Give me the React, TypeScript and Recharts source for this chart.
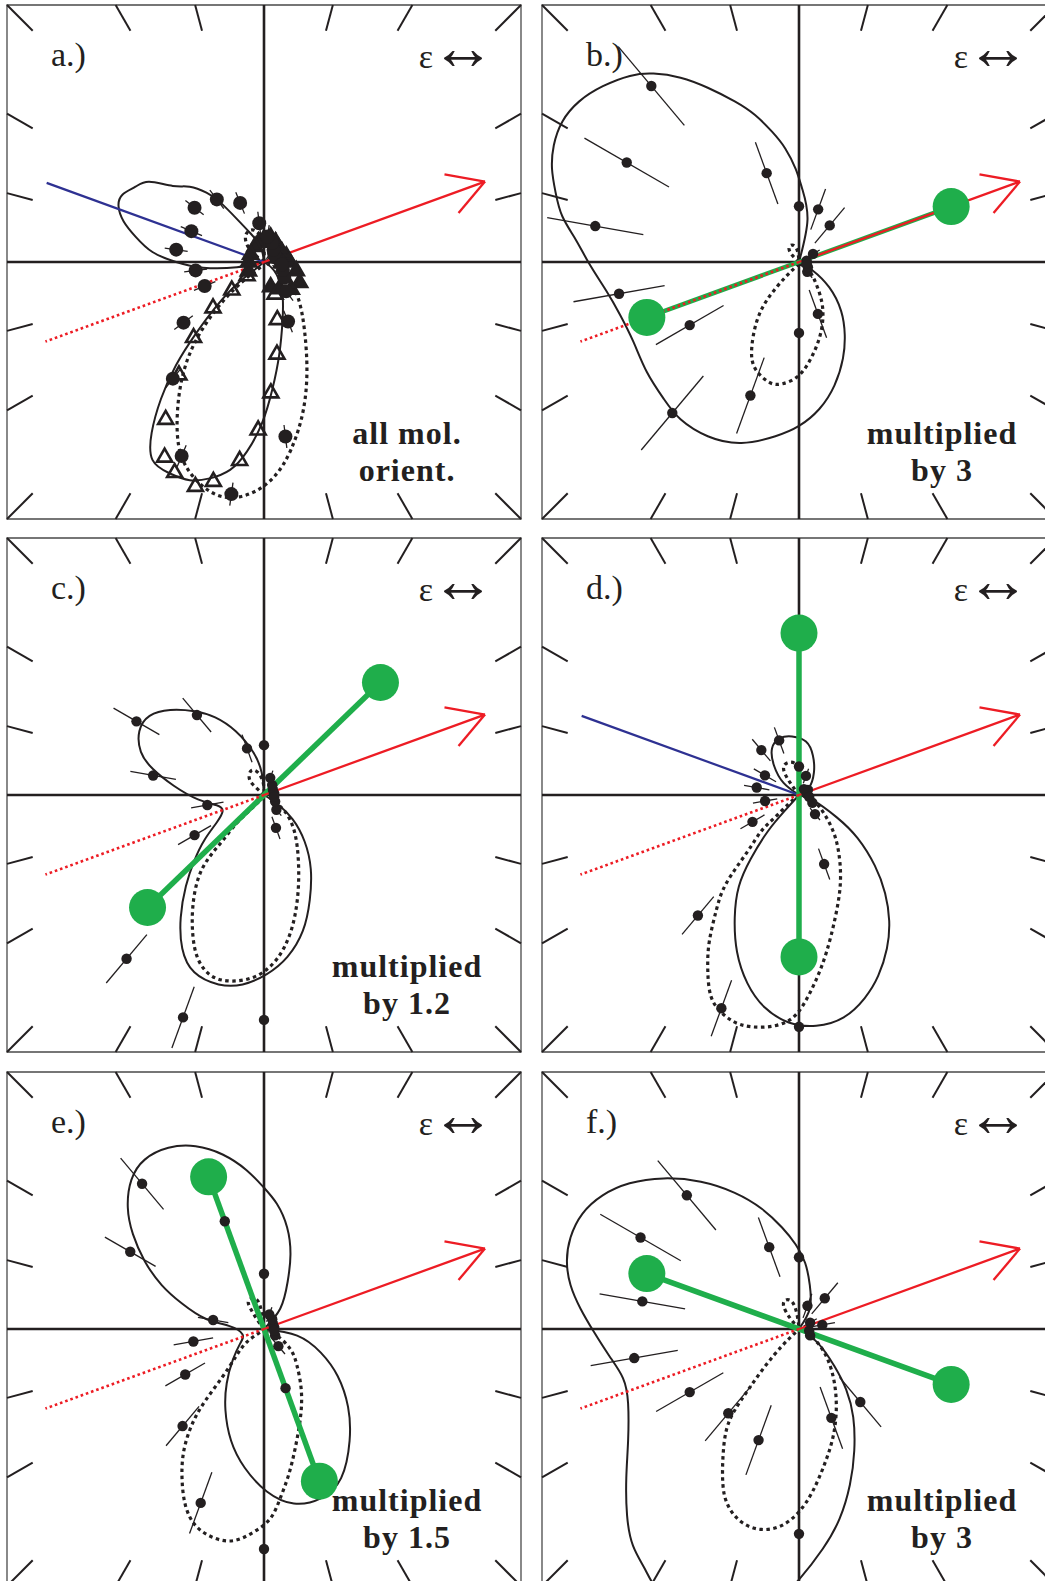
import { ComposedChart, Line, Scatter, XAxis, YAxis, ReferenceLine, ReferenceArea } from 'recharts'

const INK = '#231f20'
const RED = '#ed1c24'
const GREEN = '#1fae4b'
const BLUE = '#2e3192'
const SERIF = '"Liberation Serif", "Times New Roman", serif'

// frame ticks every 15 degrees (the axes cover the right angles)
const tickAngles = [15, 30, 45, 60, 75, 105, 120, 135, 150, 165, 195, 210, 225, 240, 255, 285, 300, 315, 330, 345]

// polarisation vector (red) and its back half (dotted)
const fieldAngle = 20
const fieldLength = 0.915
const fieldTail = 0.905
const headAngle = 150
const headLength = 0.16
const moleculeAngle = 160 // blue line, panels a and d
const moleculeLength = 0.9
const greenLength = 0.63

// measured points: angles (deg) and radii
const anglesA = [7, 22, 37, 52, 67, 82, 97, 112, 127, 142, 157, 172, 187, 202, 217, 232, 247, 262, 277, 292, 307, 322, 337, 352]
const rA = [0.06, 0.05, 0.05, 0.06, 0.08, 0.1, 0.152, 0.248, 0.305, 0.343, 0.307, 0.345, 0.268, 0.249, 0.392, 0.576, 0.82, 0.912, 0.684, 0.25, 0.143, 0.1, 0.08, 0.07]
const errA = rA.map(() => 0.045)

const triAngles = [219, 221, 222, 227, 233, 238, 243, 247, 253, 257, 263, 268, 273, 278, 283, 289]
const triR = [0.085, 0.166, 0.267, 0.402, 0.55, 0.722, 0.852, 0.89, 0.913, 0.876, 0.778, 0.654, 0.51, 0.362, 0.23, 0.132]
const clusterAngles = [0, 15, 30, 45, 60, 75, 90, 105, 120, 150, 180, 210, 285, 300, 315, 330, 345]
const clusterR = [0.1, 0.09, 0.08, 0.08, 0.09, 0.1, 0.09, 0.08, 0.07, 0.06, 0.06, 0.07, 0.1, 0.12, 0.15, 0.16, 0.13]

const angles20 = [10, 30, 50, 70, 90, 110, 130, 150, 170, 190, 210, 230, 250, 270, 290, 310, 330, 350]
const rB = [0.03, 0.063, 0.186, 0.218, 0.217, 0.368, 0.894, 0.774, 0.805, 0.711, 0.491, 0.767, 0.553, 0.276, 0.215, 0.05, 0.04, 0.03]
const errB = [0.02, 0.03, 0.09, 0.084, 0, 0.128, 0.2, 0.19, 0.19, 0.18, 0.152, 0.188, 0.157, 0, 0.099, 0.03, 0.02, 0.02]
const rC = [0.04, 0.04, 0.05, 0.071, 0.194, 0.193, 0.406, 0.573, 0.438, 0.224, 0.312, 0.832, 0.921, 0.875, 0.136, 0.075, 0.05, 0.04]
const errC = [0.02, 0.02, 0.02, 0.03, 0, 0.057, 0.086, 0.103, 0.09, 0.064, 0.074, 0.123, 0.127, 0, 0.046, 0.03, 0.02, 0.02]
const rD = [0.03, 0.04, 0.03, 0.079, 0.111, 0.226, 0.228, 0.153, 0.167, 0.134, 0.209, 0.612, 0.883, 0.902, 0.286, 0.097, 0.06, 0.04]
const errD = [0.02, 0.02, 0.02, 0.03, 0.03, 0.054, 0.055, 0.05, 0.05, 0.048, 0.054, 0.096, 0.116, 0, 0.064, 0.03, 0.02, 0.02]
const rE = [0.04, 0.04, 0.05, 0.06, 0.215, 0.446, 0.738, 0.601, 0.201, 0.279, 0.354, 0.493, 0.72, 0.856, 0.245, 0.087, 0.05, 0.04]
const errE = [0.02, 0.02, 0.02, 0.03, 0, 0.093, 0.13, 0.114, 0.06, 0.078, 0.089, 0.1, 0.127, 0, 0.071, 0.04, 0.02, 0.02]
const rF = [0.092, 0.05, 0.156, 0.096, 0.279, 0.339, 0.679, 0.712, 0.619, 0.651, 0.491, 0.428, 0.46, 0.797, 0.368, 0.371, 0.05, 0.04]
const errF = [0.05, 0.03, 0.079, 0.05, 0, 0.123, 0.176, 0.181, 0.169, 0.172, 0.151, 0.14, 0.144, 0, 0.128, 0.126, 0.02, 0.02]

// traced curves [x, y], frame = +-1
const solidA1 = [[0, 0], [-0.105, -0.02], [-0.237, -0.022], [-0.342, 0], [-0.434, 0.039], [-0.5, 0.099], [-0.546, 0.158], [-0.566, 0.217], [-0.55, 0.263], [-0.5, 0.293], [-0.447, 0.312], [-0.355, 0.296], [-0.289, 0.293], [-0.224, 0.27], [-0.171, 0.233], [-0.105, 0.167], [-0.053, 0.112], [-0.013, 0.059], [0, 0]]
const solidA2 = [[0, 0], [-0.04, -0.033], [-0.105, -0.086], [-0.184, -0.171], [-0.263, -0.276], [-0.342, -0.401], [-0.401, -0.533], [-0.437, -0.664], [-0.434, -0.77], [-0.368, -0.822], [-0.289, -0.849], [-0.211, -0.842], [-0.132, -0.809], [-0.066, -0.737], [-0.007, -0.625], [0.033, -0.493], [0.059, -0.362], [0.072, -0.23], [0.07, -0.112], [0.039, -0.033], [0, 0]]
const dottedA1 = [[-0.013, -0.02], [-0.079, -0.072], [-0.158, -0.151], [-0.237, -0.257], [-0.296, -0.375], [-0.329, -0.507], [-0.338, -0.651], [-0.316, -0.77], [-0.25, -0.862], [-0.158, -0.914], [-0.053, -0.901], [0.039, -0.836], [0.105, -0.73], [0.151, -0.586], [0.167, -0.428], [0.158, -0.27], [0.132, -0.138], [0.079, -0.046], [0.013, -0.007]]
const dottedA2 = [[0, 0], [-0.053, 0.046], [-0.072, 0.099], [-0.046, 0.125], [-0.013, 0.099], [0, 0.046], [0, 0]]

const solidB = [[0, 0], [0.033, 0.164], [0.013, 0.283], [-0.013, 0.362], [-0.053, 0.441], [-0.105, 0.507], [-0.171, 0.572], [-0.25, 0.625], [-0.355, 0.678], [-0.461, 0.717], [-0.566, 0.733], [-0.658, 0.724], [-0.763, 0.684], [-0.855, 0.625], [-0.921, 0.546], [-0.954, 0.454], [-0.961, 0.362], [-0.947, 0.27], [-0.921, 0.178], [-0.868, 0.086], [-0.816, -0.007], [-0.75, -0.112], [-0.697, -0.204], [-0.645, -0.309], [-0.592, -0.428], [-0.526, -0.533], [-0.461, -0.612], [-0.355, -0.678], [-0.224, -0.704], [-0.092, -0.678], [0, -0.638], [0.079, -0.572], [0.138, -0.48], [0.171, -0.375], [0.178, -0.283], [0.164, -0.191], [0.118, -0.099], [0.053, -0.033], [0, 0]]
const dottedB1 = [[0, -0.007], [-0.053, -0.059], [-0.118, -0.138], [-0.164, -0.23], [-0.184, -0.336], [-0.171, -0.414], [-0.118, -0.467], [-0.066, -0.474], [0, -0.441], [0.053, -0.362], [0.086, -0.27], [0.092, -0.178], [0.072, -0.099], [0.039, -0.033], [0, -0.007]]
const dottedB2 = [[0, 0], [-0.026, 0.026], [-0.039, 0.053], [-0.026, 0.066], [-0.007, 0.046], [0, 0]]

const solidC = [[0, 0], [-0.009, 0.087], [-0.043, 0.168], [-0.11, 0.248], [-0.19, 0.302], [-0.271, 0.326], [-0.365, 0.331], [-0.445, 0.308], [-0.485, 0.248], [-0.479, 0.168], [-0.432, 0.101], [-0.351, 0.036], [-0.257, -0.017], [-0.184, -0.04], [-0.161, -0.063], [-0.184, -0.107], [-0.231, -0.174], [-0.271, -0.255], [-0.304, -0.355], [-0.324, -0.476], [-0.318, -0.597], [-0.271, -0.69], [-0.177, -0.737], [-0.083, -0.737], [0.011, -0.697], [0.091, -0.63], [0.151, -0.529], [0.178, -0.409], [0.182, -0.288], [0.158, -0.181], [0.111, -0.094], [0.051, -0.034], [0, 0]]
const dottedC1 = [[0, -0.007], [-0.056, -0.06], [-0.11, -0.114], [-0.164, -0.181], [-0.217, -0.248], [-0.257, -0.328], [-0.277, -0.436], [-0.277, -0.543], [-0.257, -0.637], [-0.204, -0.704], [-0.123, -0.724], [-0.029, -0.704], [0.051, -0.637], [0.105, -0.529], [0.131, -0.395], [0.134, -0.261], [0.118, -0.141], [0.078, -0.06], [0.024, -0.013]]
const dottedC2 = [[0, 0], [-0.029, 0.027], [-0.056, 0.06], [-0.05, 0.094], [-0.023, 0.087], [-0.003, 0.047], [0, 0]]

const solidD1 = [[0, 0], [-0.06, 0.047], [-0.097, 0.114], [-0.105, 0.181], [-0.074, 0.221], [-0.027, 0.228], [0.027, 0.208], [0.054, 0.154], [0.058, 0.087], [0.038, 0.027], [0, 0]]
const solidD2 = [[0, 0], [0.054, -0.02], [0.147, -0.087], [0.228, -0.168], [0.295, -0.275], [0.335, -0.382], [0.351, -0.49], [0.342, -0.597], [0.308, -0.704], [0.255, -0.791], [0.174, -0.865], [0.067, -0.898], [-0.04, -0.885], [-0.134, -0.826], [-0.201, -0.732], [-0.241, -0.611], [-0.25, -0.477], [-0.234, -0.356], [-0.188, -0.249], [-0.121, -0.141], [-0.054, -0.06], [0, 0]]
const dottedD1 = [[0, 0], [-0.034, 0.047], [-0.06, 0.101], [-0.04, 0.127], [-0.007, 0.114], [0, 0.06], [0, 0]]
const dottedD2 = [[0, 0], [-0.04, -0.034], [-0.094, -0.087], [-0.147, -0.141], [-0.201, -0.221], [-0.282, -0.342], [-0.322, -0.449], [-0.349, -0.57], [-0.355, -0.678], [-0.342, -0.785], [-0.295, -0.853], [-0.228, -0.893], [-0.134, -0.903], [-0.04, -0.878], [0.02, -0.811], [0.067, -0.718], [0.107, -0.611], [0.141, -0.477], [0.161, -0.342], [0.154, -0.221], [0.127, -0.127], [0.08, -0.047], [0.04, -0.013], [0, 0]]

const solidE = [[0, 0], [0.063, 0.079], [0.092, 0.184], [0.103, 0.29], [0.09, 0.395], [0.05, 0.487], [-0.003, 0.553], [-0.069, 0.619], [-0.161, 0.679], [-0.266, 0.711], [-0.372, 0.705], [-0.464, 0.659], [-0.516, 0.58], [-0.53, 0.474], [-0.51, 0.369], [-0.464, 0.264], [-0.398, 0.171], [-0.319, 0.099], [-0.227, 0.04], [-0.134, 0.011], [-0.084, -0.02], [-0.092, -0.055], [-0.121, -0.119], [-0.145, -0.211], [-0.15, -0.316], [-0.128, -0.435], [-0.075, -0.54], [0.011, -0.632], [0.116, -0.679], [0.221, -0.659], [0.3, -0.58], [0.333, -0.435], [0.327, -0.303], [0.287, -0.184], [0.221, -0.092], [0.129, -0.026], [0, 0]]
const dottedE1 = [[-0.016, -0.013], [-0.069, -0.053], [-0.108, -0.105], [-0.16, -0.184], [-0.227, -0.277], [-0.279, -0.369], [-0.312, -0.474], [-0.319, -0.58], [-0.306, -0.685], [-0.267, -0.764], [-0.201, -0.81], [-0.121, -0.824], [-0.042, -0.791], [0.024, -0.738], [0.063, -0.659], [0.096, -0.567], [0.122, -0.461], [0.142, -0.343], [0.145, -0.237], [0.129, -0.145], [0.103, -0.079], [0.05, -0.026], [0, -0.007]]
const dottedE2 = [[0, 0], [-0.029, 0.04], [-0.055, 0.085], [-0.06, 0.11], [-0.04, 0.12], [-0.016, 0.092], [0, 0]]

const solidF = [[0, 0], [0.042, 0.079], [0.042, 0.171], [0.024, 0.257], [-0.013, 0.329], [-0.066, 0.395], [-0.145, 0.468], [-0.25, 0.53], [-0.382, 0.573], [-0.527, 0.586], [-0.659, 0.567], [-0.764, 0.52], [-0.843, 0.448], [-0.889, 0.356], [-0.903, 0.264], [-0.889, 0.171], [-0.85, 0.079], [-0.797, -0.013], [-0.738, -0.105], [-0.685, -0.191], [-0.665, -0.29], [-0.665, -0.435], [-0.672, -0.58], [-0.669, -0.725], [-0.646, -0.843], [-0.599, -0.935], [-0.54, -1.028], [-0.408, -1.107], [-0.237, -1.107], [-0.092, -1.054], [0, -0.975], [0.092, -0.856], [0.158, -0.738], [0.198, -0.606], [0.215, -0.474], [0.211, -0.343], [0.184, -0.237], [0.138, -0.145], [0.072, -0.053], [0, 0]]
const dottedF1 = [[-0.013, -0.013], [-0.066, -0.066], [-0.132, -0.145], [-0.198, -0.237], [-0.25, -0.316], [-0.283, -0.395], [-0.296, -0.501], [-0.296, -0.606], [-0.277, -0.685], [-0.224, -0.751], [-0.145, -0.78], [-0.066, -0.764], [0, -0.711], [0.053, -0.632], [0.099, -0.527], [0.132, -0.422], [0.145, -0.316], [0.138, -0.211], [0.112, -0.119], [0.072, -0.053], [0.026, -0.013]]
const dottedF2 = [[0, 0], [-0.033, 0.04], [-0.059, 0.086], [-0.053, 0.112], [-0.026, 0.105], [-0.007, 0.053], [0, 0]]

const SIZE = 514
const PAD = 6

const polar = (deg: number, r: number) => ({
  x: r * Math.cos((deg * Math.PI) / 180),
  y: r * Math.sin((deg * Math.PI) / 180),
})
const toPts = (arr: number[][]) => arr.map(([x, y]) => ({ x, y }))

type PanelCfg = {
  letter: string
  left: number
  top: number
  solid: number[][][]
  dotted: number[][][]
  angles: number[]
  r: number[]
  err: number[]
  dotR: number
  green?: number
  blue?: boolean
  note?: string[]
  triangles?: boolean
}

const panels: PanelCfg[] = [
  { letter: 'a.)', left: 7, top: 5, solid: [solidA1, solidA2], dotted: [dottedA1, dottedA2], angles: anglesA, r: rA, err: errA, dotR: 7, blue: true, note: ['all mol.', 'orient.'], triangles: true },
  { letter: 'b.)', left: 542, top: 5, solid: [solidB], dotted: [dottedB1, dottedB2], angles: angles20, r: rB, err: errB, dotR: 5.2, green: 20, note: ['multiplied', 'by 3'] },
  { letter: 'c.)', left: 7, top: 538, solid: [solidC], dotted: [dottedC1, dottedC2], angles: angles20, r: rC, err: errC, dotR: 5.2, green: 44, note: ['multiplied', 'by 1.2'] },
  { letter: 'd.)', left: 542, top: 538, solid: [solidD1, solidD2], dotted: [dottedD1, dottedD2], angles: angles20, r: rD, err: errD, dotR: 5.2, green: 90, blue: true },
  { letter: 'e.)', left: 7, top: 1072, solid: [solidE], dotted: [dottedE1, dottedE2], angles: angles20, r: rE, err: errE, dotR: 5.2, green: 110, note: ['multiplied', 'by 1.5'] },
  { letter: 'f.)', left: 542, top: 1072, solid: [solidF], dotted: [dottedF1, dottedF2], angles: angles20, r: rF, err: errF, dotR: 5.2, green: 160, note: ['multiplied', 'by 3'] },
]

const frameTick = (deg: number) => {
  const c = Math.cos((deg * Math.PI) / 180)
  const s = Math.sin((deg * Math.PI) / 180)
  const m = Math.max(Math.abs(c), Math.abs(s))
  return [{ x: c / m, y: s / m }, { x: (0.9 * c) / m, y: (0.9 * s) / m }]
}

const triangleShape = (filled: boolean) => (p: any) => (
  <polygon
    points={`${p.cx},${p.cy - 8.5} ${p.cx - 7.5},${p.cy + 4.5} ${p.cx + 7.5},${p.cy + 4.5}`}
    fill={filled ? INK : '#fff'}
    fillOpacity={filled ? 1 : 0}
    stroke={INK}
    strokeWidth={2.6}
    strokeLinejoin="miter"
  />
)

function Panel({ cfg }: { cfg: PanelCfg }) {
  const dots = cfg.angles.map((a, i) => polar(a, cfg.r[i]))
  const bars = cfg.angles
    .map((a, i) => ({ a, r: cfg.r[i], e: cfg.err[i] }))
    .filter((d) => d.e > 0)
    .map((d) => [polar(d.a, d.r - d.e), polar(d.a, d.r + d.e)])
  const tip = polar(fieldAngle, fieldLength)
  const headA = polar(fieldAngle + headAngle, headLength)
  const headB = polar(fieldAngle - headAngle, headLength)
  const greenPts = cfg.green !== undefined ? [polar(cfg.green, greenLength), polar(cfg.green + 180, greenLength)] : []

  return (
    <>
      <div style={{ position: 'absolute', left: cfg.left - PAD, top: cfg.top - PAD }}>
        <ComposedChart width={SIZE + 2 * PAD} height={SIZE + 2 * PAD} margin={{ top: PAD, right: PAD, bottom: PAD, left: PAD }}>
          <XAxis type="number" dataKey="x" domain={[-1, 1]} allowDataOverflow hide />
          <YAxis type="number" dataKey="y" domain={[-1, 1]} allowDataOverflow hide />
          <ReferenceArea x1={-1} x2={1} y1={-1} y2={1} fill="none" stroke="#4a4a4a" strokeWidth={1.3} ifOverflow="visible" />
          {tickAngles.map((a) => (
            <ReferenceLine key={'t' + a} segment={frameTick(a)} stroke={INK} strokeWidth={2} ifOverflow="visible" />
          ))}
          <ReferenceLine x={0} stroke={INK} strokeWidth={2.6} />
          <ReferenceLine y={0} stroke={INK} strokeWidth={2.6} />
          {cfg.solid.map((c, i) => (
            <Line key={'s' + i} data={toPts(c)} dataKey="y" type="natural" stroke={INK} strokeWidth={2} dot={false} activeDot={false} isAnimationActive={false} />
          ))}
          {cfg.dotted.map((c, i) => (
            <Line key={'d' + i} data={toPts(c)} dataKey="y" type="natural" stroke={INK} strokeWidth={3.2} strokeDasharray="3.5 3.5" dot={false} activeDot={false} isAnimationActive={false} />
          ))}
          {bars.map((b, i) => (
            <ReferenceLine key={'e' + i} segment={b} stroke={INK} strokeWidth={1.3} ifOverflow="visible" />
          ))}
          {cfg.triangles && (
            <Scatter data={triAngles.map((a, i) => polar(a, triR[i]))} shape={triangleShape(false)} isAnimationActive={false} />
          )}
          {cfg.triangles && (
            <Scatter data={clusterAngles.map((a, i) => polar(a, clusterR[i]))} shape={triangleShape(true)} isAnimationActive={false} />
          )}
          <Scatter data={dots} shape={(p: any) => <circle cx={p.cx} cy={p.cy} r={cfg.dotR} fill={INK} />} isAnimationActive={false} />
          {cfg.blue && (
            <ReferenceLine segment={[polar(moleculeAngle, moleculeLength), { x: 0, y: 0 }]} stroke={BLUE} strokeWidth={2.2} ifOverflow="visible" />
          )}
          {greenPts.length > 0 && (
            <ReferenceLine segment={greenPts} stroke={GREEN} strokeWidth={cfg.green === 20 ? 4.5 : 5.5} ifOverflow="visible" />
          )}
          {greenPts.length > 0 && (
            <Scatter data={greenPts} shape={(p: any) => <circle cx={p.cx} cy={p.cy} r={18.5} fill={GREEN} />} isAnimationActive={false} />
          )}
          <ReferenceLine segment={[{ x: 0, y: 0 }, polar(fieldAngle + 180, fieldTail)]} stroke={RED} strokeWidth={2.6} strokeDasharray="2.6 2.9" ifOverflow="visible" />
          <ReferenceLine segment={[{ x: 0, y: 0 }, tip]} stroke={RED} strokeWidth={2.3} ifOverflow="visible" />
          <ReferenceLine segment={[tip, { x: tip.x + headA.x, y: tip.y + headA.y }]} stroke={RED} strokeWidth={2.3} ifOverflow="visible" />
          <ReferenceLine segment={[tip, { x: tip.x + headB.x, y: tip.y + headB.y }]} stroke={RED} strokeWidth={2.3} ifOverflow="visible" />
        </ComposedChart>
      </div>
      <svg
        width={SIZE}
        height={SIZE}
        style={{ position: 'absolute', left: cfg.left, top: cfg.top, pointerEvents: 'none', overflow: 'visible' }}
      >
        <text x={44} y={61} fontFamily={SERIF} fontSize={34} fill={INK}>{cfg.letter}</text>
        <text x={488} y={63} fontFamily={SERIF} fontSize={34} fill={INK} textAnchor="end">
          ε
          <tspan dx={-2} fontSize={64} dy={1}>↔</tspan>
        </text>
        {cfg.note && (
          <text fontFamily={SERIF} fontSize={32} fontWeight="bold" fill={INK} textAnchor="middle" letterSpacing={1}>
            <tspan x={400} y={439}>{cfg.note[0]}</tspan>
            <tspan x={400} y={476}>{cfg.note[1]}</tspan>
          </text>
        )}
      </svg>
    </>
  )
}

export default function App() {
  return (
    <div style={{ position: 'absolute', left: 0, top: 0, width: 1045, height: 1581, overflow: 'hidden', background: '#fff' }}>
      {panels.map((p) => (
        <Panel key={p.letter} cfg={p} />
      ))}
    </div>
  )
}
